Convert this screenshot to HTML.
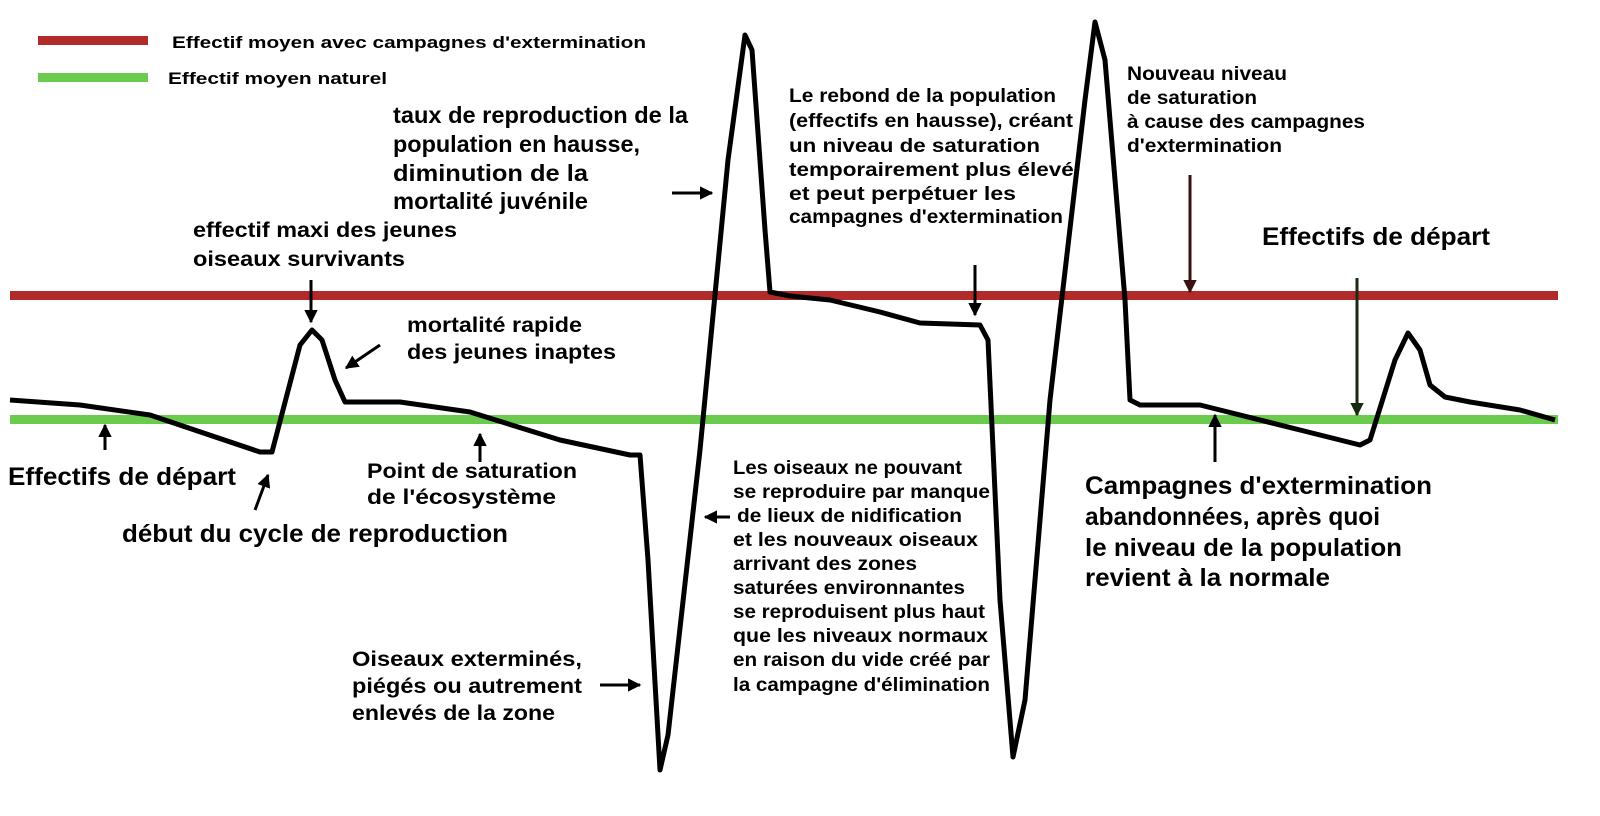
<!DOCTYPE html>
<html><head><meta charset="utf-8"><style>
html,body{margin:0;padding:0;background:#fff;}
svg{display:block;}
text{font-family:"Liberation Sans",Arial,sans-serif;font-weight:bold;fill:#000;}
</style></head><body>
<svg width="1600" height="816" viewBox="0 0 1600 816" xmlns="http://www.w3.org/2000/svg">
<defs>
<marker id="a" viewBox="0 0 10 10" refX="9" refY="5" markerWidth="4.5" markerHeight="4.5" orient="auto"><path d="M0,0L10,5L0,10z" fill="#000"/></marker>
<marker id="ar" viewBox="0 0 10 10" refX="9" refY="5" markerWidth="4.5" markerHeight="4.5" orient="auto"><path d="M0,0L10,5L0,10z" fill="#3a1010"/></marker>
<marker id="ag" viewBox="0 0 10 10" refX="9" refY="5" markerWidth="4.5" markerHeight="4.5" orient="auto"><path d="M0,0L10,5L0,10z" fill="#1a2a10"/></marker>
</defs>
<rect x="38" y="36" width="110" height="9" fill="#b22a2a"/>
<rect x="38" y="73" width="110" height="9" fill="#6acb4e"/>
<g lengthAdjust="spacingAndGlyphs">
<text x="172" y="48" font-size="17" textLength="474" lengthAdjust="spacingAndGlyphs">Effectif moyen avec campagnes d'extermination</text>
<text x="168" y="84" font-size="17" textLength="219" lengthAdjust="spacingAndGlyphs">Effectif moyen naturel</text>
</g>
<rect x="10" y="291" width="1548" height="9" fill="#b22a2a"/>
<rect x="10" y="415" width="1548" height="9" fill="#6acb4e"/>
<polyline fill="none" stroke="#000" stroke-width="5" stroke-linejoin="round" points="10,400 80,405 150,415 260,452 272,452 300,345 312,330 322,340 335,380 345,402 400,402 470,412 560,440 630,455 640,455 648,560 660,770 668,735 700,450 728,160 745,35 752,50 765,230 770,292 790,296 830,300 880,312 920,323 980,325 988,340 1000,600 1013,757 1025,700 1050,400 1085,100 1095,22 1105,60 1125,300 1130,400 1140,405 1200,405 1220,410 1300,430 1360,445 1370,440 1395,360 1408,333 1420,350 1430,385 1445,397 1470,402 1520,410 1555,420"/>
<g stroke="#000" stroke-width="3" fill="none" marker-end="url(#a)">
<line x1="311" y1="280" x2="311" y2="322"/>
<line x1="380" y1="345" x2="346" y2="368"/>
<line x1="105" y1="450" x2="105" y2="425"/>
<line x1="255" y1="510" x2="268" y2="475"/>
<line x1="480" y1="462" x2="480" y2="434"/>
<line x1="672" y1="193" x2="712" y2="193"/>
<line x1="975" y1="265" x2="975" y2="315"/>
<line x1="730" y1="517" x2="705" y2="517"/>
<line x1="600" y1="685" x2="640" y2="685"/>
<line x1="1215" y1="462" x2="1215" y2="415"/>
</g>
<line x1="1190" y1="175" x2="1190" y2="292" stroke="#3a1010" stroke-width="3" marker-end="url(#ar)"/>
<line x1="1357" y1="278" x2="1357" y2="415" stroke="#1a2a10" stroke-width="3" marker-end="url(#ag)"/>
<g font-size="23">
<text x="393" y="123" textLength="295" lengthAdjust="spacingAndGlyphs">taux de reproduction de la</text>
<text x="393" y="152" textLength="247" lengthAdjust="spacingAndGlyphs">population en hausse,</text>
<text x="393" y="181" textLength="195" lengthAdjust="spacingAndGlyphs">diminution de la</text>
<text x="393" y="209" textLength="195" lengthAdjust="spacingAndGlyphs">mortalité juvénile</text>
</g>
<g font-size="21">
<text x="193" y="237" textLength="264" lengthAdjust="spacingAndGlyphs">effectif maxi des jeunes</text>
<text x="193" y="266" textLength="212" lengthAdjust="spacingAndGlyphs">oiseaux survivants</text>
<text x="407" y="332" textLength="175" lengthAdjust="spacingAndGlyphs">mortalité rapide</text>
<text x="407" y="359" textLength="209" lengthAdjust="spacingAndGlyphs">des jeunes inaptes</text>
<text x="367" y="478" textLength="210" lengthAdjust="spacingAndGlyphs">Point de saturation</text>
<text x="367" y="504" textLength="189" lengthAdjust="spacingAndGlyphs">de l'écosystème</text>
<text x="352" y="666" textLength="230" lengthAdjust="spacingAndGlyphs">Oiseaux exterminés,</text>
<text x="352" y="693" textLength="230" lengthAdjust="spacingAndGlyphs">piégés ou autrement</text>
<text x="352" y="720" textLength="203" lengthAdjust="spacingAndGlyphs">enlevés de la zone</text>
</g>
<g font-size="25">
<text x="8" y="485" textLength="228" lengthAdjust="spacingAndGlyphs">Effectifs de départ</text>
<text x="122" y="542" textLength="386" lengthAdjust="spacingAndGlyphs">début du cycle de reproduction</text>
<text x="1262" y="245" textLength="228" lengthAdjust="spacingAndGlyphs">Effectifs de départ</text>
<text x="1085" y="494" textLength="347" lengthAdjust="spacingAndGlyphs">Campagnes d'extermination</text>
<text x="1085" y="525" textLength="295" lengthAdjust="spacingAndGlyphs">abandonnées, après quoi</text>
<text x="1085" y="556" textLength="317" lengthAdjust="spacingAndGlyphs">le niveau de la population</text>
<text x="1085" y="586" textLength="245" lengthAdjust="spacingAndGlyphs">revient à la normale</text>
</g>
<g font-size="19">
<text x="789" y="102" textLength="267" lengthAdjust="spacingAndGlyphs">Le rebond de la population</text>
<text x="789" y="127" textLength="284" lengthAdjust="spacingAndGlyphs">(effectifs en hausse), créant</text>
<text x="789" y="152" textLength="251" lengthAdjust="spacingAndGlyphs">un niveau de saturation</text>
<text x="789" y="176" textLength="291" lengthAdjust="spacingAndGlyphs">temporairement plus élevé,</text>
<text x="789" y="200" textLength="227" lengthAdjust="spacingAndGlyphs">et peut perpétuer les</text>
<text x="789" y="223" textLength="274" lengthAdjust="spacingAndGlyphs">campagnes d'extermination</text>
<text x="1127" y="80" textLength="160" lengthAdjust="spacingAndGlyphs">Nouveau niveau</text>
<text x="1127" y="104" textLength="130" lengthAdjust="spacingAndGlyphs">de saturation</text>
<text x="1127" y="128" textLength="238" lengthAdjust="spacingAndGlyphs">à cause des campagnes</text>
<text x="1127" y="152" textLength="155" lengthAdjust="spacingAndGlyphs">d'extermination</text>
<text x="733" y="474" textLength="229" lengthAdjust="spacingAndGlyphs">Les oiseaux ne pouvant</text>
<text x="733" y="498" textLength="257" lengthAdjust="spacingAndGlyphs">se reproduire par manque</text>
<text x="737" y="522" textLength="225" lengthAdjust="spacingAndGlyphs">de lieux de nidification</text>
<text x="733" y="546" textLength="245" lengthAdjust="spacingAndGlyphs">et les nouveaux oiseaux</text>
<text x="733" y="570" textLength="184" lengthAdjust="spacingAndGlyphs">arrivant des zones</text>
<text x="733" y="594" textLength="232" lengthAdjust="spacingAndGlyphs">saturées environnantes</text>
<text x="733" y="618" textLength="252" lengthAdjust="spacingAndGlyphs">se reproduisent plus haut</text>
<text x="733" y="642" textLength="255" lengthAdjust="spacingAndGlyphs">que les niveaux normaux</text>
<text x="733" y="666" textLength="257" lengthAdjust="spacingAndGlyphs">en raison du vide créé par</text>
<text x="733" y="691" textLength="257" lengthAdjust="spacingAndGlyphs">la campagne d'élimination</text>
</g>
</svg>
</body></html>
